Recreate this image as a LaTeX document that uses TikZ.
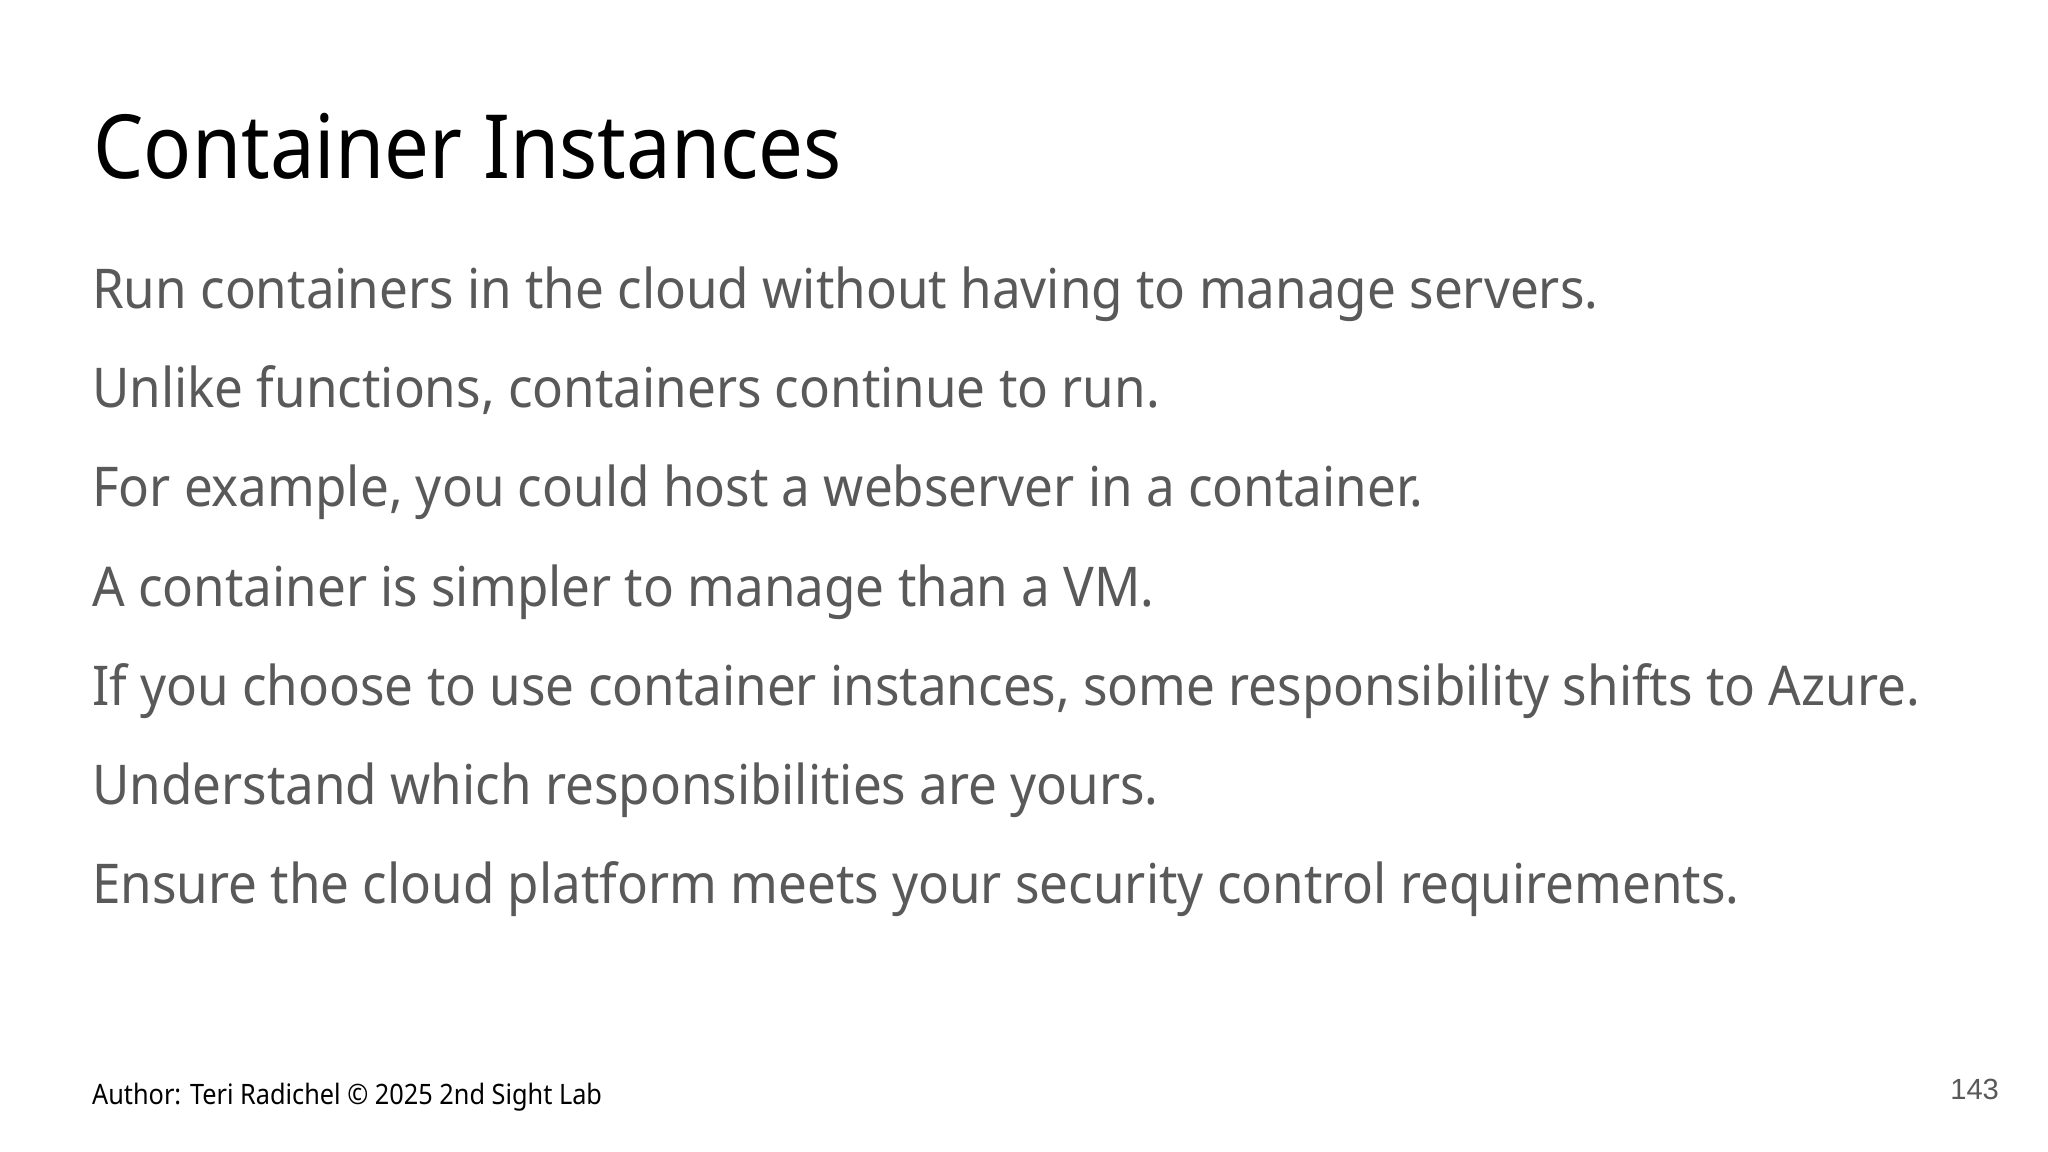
\documentclass[tikz,border=0pt]{standalone}
\usepackage{fontspec}
\usepackage{graphicx}
\setmainfont{Noto Sans}
\newfontfamily\numfont{Liberation Sans}
\definecolor{bodygrey}{HTML}{595959}
\newcommand{\bodyx}[1]{\scalebox{0.933}[1]{#1}}
\begin{document}
\begin{tikzpicture}[x=0.01306cm,y=-0.01306cm,
  body/.style={anchor=base west,inner sep=0,text=bodygrey,font=\fontsize{15.6}{18}\selectfont}]
\useasboundingbox[fill=white] (0,0) rectangle (1568,882);
\node[anchor=base west,inner sep=0,font=\fontsize{25.2}{30}\selectfont] (title) at (71,137) {\scalebox{0.9}[1]{Container Instances}};
\node[body] (l1) at (70,236) {\bodyx{Run containers in the cloud without having to manage servers.}};
\node[body] (l2) at (70,312) {\bodyx{Unlike functions, containers continue to run.}};
\node[body] (l3) at (70,388) {\bodyx{For example, you could host a webserver in a container.}};
\node[body] (l4) at (70,464) {\bodyx{A container is simpler to manage than a VM.}};
\node[body] (l5) at (70,540) {\bodyx{If you choose to use container instances, some responsibility shifts to Azure.}};
\node[body] (l6) at (70,616) {\bodyx{Understand which responsibilities are yours.}};
\node[body] (l7) at (70,692) {\bodyx{Ensure the cloud platform meets your security control requirements.}};
\node[anchor=base west,inner sep=0,font=\fontsize{8.0}{10}\selectfont] (author) at (70,846) {\scalebox{0.9}[1]{Author: Teri Radichel © 2025 2nd Sight Lab}};
\node[anchor=base east,inner sep=0,text=bodygrey,font=\numfont\fontsize{8.3}{10}\selectfont] (page) at (1531,842) {143};
\end{tikzpicture}
\end{document}
